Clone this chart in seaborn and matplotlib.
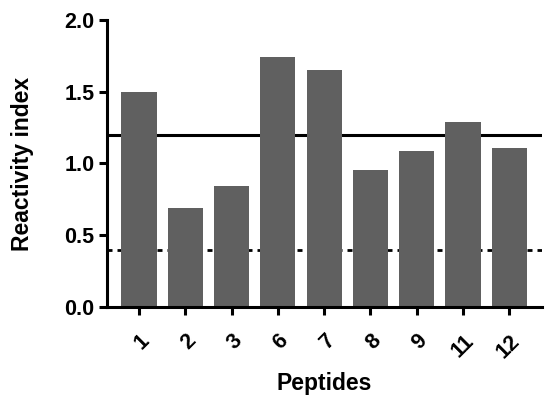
import matplotlib
matplotlib.use("Agg")
import matplotlib.pyplot as plt
import seaborn as sns
import pandas as pd

peptides = ["1", "2", "3", "6", "7", "8", "9", "11", "12"]
reactivity = [1.50, 0.69, 0.84, 1.74, 1.65, 0.955, 1.09, 1.29, 1.11]
cutoff_high = 1.2
cutoff_low = 0.4
y_ticks = [0.0, 0.5, 1.0, 1.5, 2.0]

sns.set_theme(style="ticks")
plt.rcParams['font.family'] = ['Liberation Sans', 'DejaVu Sans']
plt.rcParams['font.weight'] = 'bold'
plt.rcParams['text.color'] = 'black'
plt.rcParams['axes.labelcolor'] = 'black'

df = pd.DataFrame({"Peptides": peptides, "Reactivity index": reactivity})

fig = plt.figure(figsize=(5.5, 3.98), dpi=100)
ax = fig.add_axes([0.1945, 0.2286, 0.7905, 0.7214])

ax.axhline(cutoff_high, color="black", lw=2.2, zorder=0)
ax.axhline(cutoff_low, color="black", lw=2.0, ls=(0, (1.8, 1.8)), zorder=0)

sns.barplot(data=df, x="Peptides", y="Reactivity index", color="#606060",
            saturation=1, width=0.76, ax=ax, zorder=2, edgecolor="none")

ax.set_xlim(-0.69, 8.7)
ax.set_ylim(0, 2.0)
ax.set_yticks(y_ticks)
ax.set_yticklabels([f"{v:.1f}" for v in y_ticks], fontsize=15.5, fontweight="bold")
ax.set_xticks(range(len(peptides)))
ax.set_xticklabels(peptides, rotation=45, ha="right", rotation_mode="anchor",
                   fontsize=15.5, fontweight="bold")
ax.set_xlabel("Peptides", fontsize=16.5, fontweight="bold", labelpad=7, color="black")
ax.set_ylabel("Reactivity index", fontsize=16.5, fontweight="bold", labelpad=22, color="black")

for s in ["top", "right"]:
    ax.spines[s].set_visible(False)
for s in ["left", "bottom"]:
    ax.spines[s].set_linewidth(2.2)
    ax.spines[s].set_color("black")
ax.tick_params(axis="both", width=2.2, length=6, color="black", labelcolor="black")
ax.tick_params(axis="x", pad=11)
ax.tick_params(axis="y", pad=3)

fig.savefig("out.png", dpi=100)
